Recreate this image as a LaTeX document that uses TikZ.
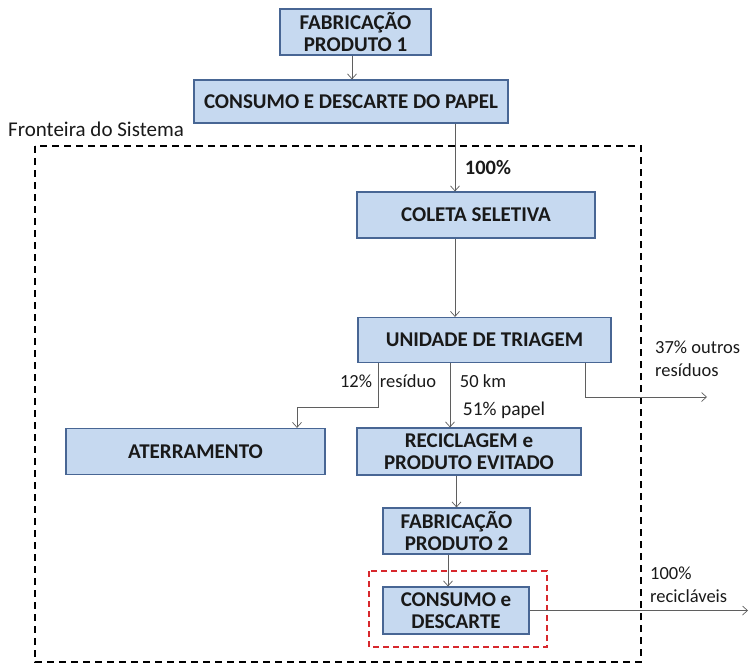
\documentclass[tikz,border=0pt]{standalone}
\usepackage{fontspec}
\setmainfont{Carlito}
\usetikzlibrary{arrows.meta}
\definecolor{boxfill}{RGB}{198,217,240}
\definecolor{boxline}{RGB}{72,102,148}
\definecolor{flow}{RGB}{95,95,95}
\definecolor{hl}{RGB}{215,40,45}
\begin{document}
\begin{tikzpicture}[x=1pt,y=-1pt,
  procbox/.style={draw=boxline,fill=boxfill,line width=1.2pt,inner sep=0pt,
    align=center,font=\fontsize{21}{22}\selectfont\bfseries,text=black!90},
  arr/.style={draw=flow,line width=0.7pt,-{Straight Barb[length=5pt,width=9pt]}},
  lbl/.style={font=\fontsize{18.5}{23}\selectfont,text=black!90,inner sep=0pt},
  bound/.style={line width=1.6pt,dash pattern=on 7pt off 5pt}]
\useasboundingbox (0,0) rectangle (751,665);

% system boundary and its caption
\draw[bound] (35,146) rectangle (641,662);
\node[lbl,anchor=west,font=\fontsize{21}{24}\selectfont] (front) at (8,129) {Fronteira do Sistema};

% process boxes
\node[procbox,minimum width=151pt,minimum height=46pt] (fab1) at (355.5,32) {FABRICAÇÃO\\PRODUTO 1};
\node[procbox,minimum width=314pt,minimum height=43pt] (cons1) at (351,101.5) {CONSUMO E DESCARTE DO PAPEL};
\node[procbox,minimum width=238pt,minimum height=46pt] (coleta) at (476,215) {COLETA SELETIVA};
\node[procbox,minimum width=253pt,minimum height=45pt] (triagem) at (484.5,340) {UNIDADE DE TRIAGEM};
\node[procbox,minimum width=259pt,minimum height=46pt] (aterro) at (195.5,451.5) {ATERRAMENTO};
\node[procbox,minimum width=224pt,minimum height=47pt] (recic) at (469,451.5) {RECICLAGEM e\\PRODUTO EVITADO};
\node[procbox,minimum width=147pt,minimum height=46pt] (fab2) at (456.5,531) {FABRICAÇÃO\\PRODUTO 2};
\node[procbox,minimum width=146pt,minimum height=47pt] (cons2) at (456,610.5) {CONSUMO e\\DESCARTE};

% highlight around the final consumption step
\draw[hl,line width=1.6pt,dash pattern=on 6pt off 4pt] (369,571) rectangle (547,647);

% routing points
\coordinate (xa) at (455,0);
\coordinate (xb) at (450,0);
\coordinate (xc) at (448,0);
\coordinate (k1) at (378,407);
\coordinate (k2) at (297,407);
\coordinate (k3) at (585,397);
\coordinate (out1) at (707,397);
\coordinate (out2) at (748,610.5);

% flows
\draw[arr] (fab1.south -| 352,0) -- (cons1.north -| 352,0);
\draw[arr] (cons1.south -| xa) -- (coleta.north -| xa);
\draw[arr] (coleta.south -| xa) -- (triagem.north -| xa);
\draw[arr] (triagem.south -| k1) -- (k1) -- (k2) -- (aterro.north -| k2);
\draw[arr] (triagem.south -| xb) -- (recic.north -| xb);
\draw[arr] (triagem.south -| k3) -- (k3) -- (out1);
\draw[arr] (recic.south -| fab2.north) -- (fab2.north);
\draw[arr] (fab2.south -| xc) -- (cons2.north -| xc);
\draw[arr] (cons2.east) -- (out2);

% flow labels
\node[lbl,font=\fontsize{20.5}{23}\selectfont\bfseries] (p100) at (488,168) {100\%};
\node[lbl] (p12) at (356,381) {12\%};
\node[lbl] (res) at (408,381) {resíduo};
\node[lbl] (km) at (483,381) {50 km};
\node[lbl,font=\fontsize{19.5}{23}\selectfont] (pap) at (504,410) {51\% papel};
\node[lbl,anchor=west,align=left] (outros) at (655,359) {37\% outros\\resíduos};
\node[lbl,anchor=west,align=left] (recl) at (650,585) {100\%\\recicláveis};
\end{tikzpicture}
\end{document}
